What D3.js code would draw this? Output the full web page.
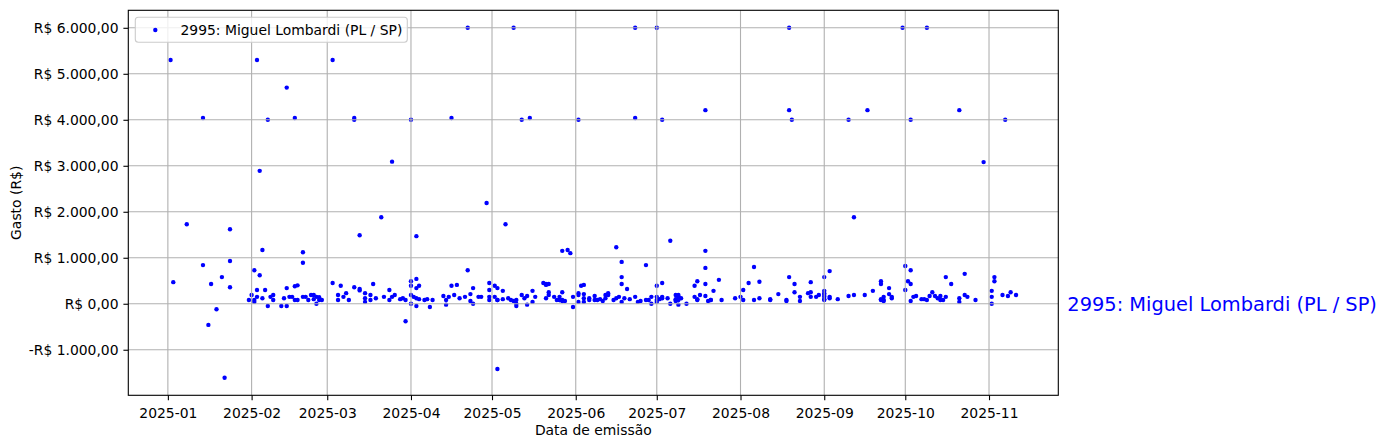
<!DOCTYPE html>
<html>
<head>
<meta charset="utf-8">
<script src="https://cdn.jsdelivr.net/npm/d3@7"></script>
<style>
  html, body { margin: 0; padding: 0; background: #fff; }
  svg { display: block; font-family: "DejaVu Sans", sans-serif; }
</style>
</head>
<body>
<svg id="chart" width="1387" height="448"></svg>
<script>
// ---- DATA ----
const seriesName = "2995: Miguel Lombardi (PL / SP)";
const startDate = "2025-01-01";
// emission date, as days after 2025-01-01
const emissionDay = [
  1,33,61,44,13,37,47,69,69,90,34,83,
  7,23,2,13,23,16,20,23,18,15,21,32,35,34,30,31,32,32,33,33,36,35,37,38,39,39,42,43,44,44,45,46,47,48,47,48,
  50,50,50,51,52,53,54,55,56,54,55,56,57,61,63,63,64,65,66,67,69,71,71,71,73,73,73,75,75,76,77,79,80,82,82,83,84,
  86,87,88,88,90,90,90,90,92,92,92,93,91,92,93,92,
  111,128,173,181,105,131,134,152,173,183,199,118,125,186,
  230,272,281,230,231,252,259,275,293,310,302,254,
  95,96,98,97,102,103,103,104,105,106,107,108,110,111,112,112,113,113,115,116,119,119,119,119,121,122,121,122,122,
  124,124,122,126,127,128,129,129,129,131,132,133,133,135,135,136,139,140,141,140,140,141,141,
  143,144,145,145,145,146,146,146,147,146,148,149,150,150,152,152,152,154,153,154,154,154,156,156,158,158,159,160,161,
  162,162,163,163,165,166,167,168,169,171,173,174,166,168,168,168,170,
  175,177,177,178,179,179,181,181,181,181,182,183,183,183,185,186,188,188,188,189,189,189,189,190,188,189,192,
  195,195,196,196,196,197,199,199,199,199,200,201,201,202,204,205,210,212,213,213,215,217,217,219,219,223,223,226,
  229,229,230,232,232,234,234,237,238,238,238,240,241,243,243,243,243,243,243,243,245,245,245,248,252,254,
  258,261,264,264,264,264,265,265,265,267,267,268,268,273,273,275,274,275,275,276,277,279,280,281,282,283,284,285,
  286,286,287,288,288,290,293,293,295,295,296,299,305,305,305,306,306,309,311,312,314
];
// expense value in R$
const expense = [
  5300,5300,5300,4700,4040,4000,4040,4040,4000,4000,2890,3090,
  1730,1620,470,840,930,430,580,360,-120,-460,-1610,730,1170,620,80,190,80,40,150,300,300,120,-50,150,190,80,-50,120,340,-50,150,150,380,400,80,80,
  1120,890,150,150,80,190,190,150,140,100,0,80,80,450,190,80,390,150,230,80,360,320,290,1490,230,40,120,190,80,430,120,1880,150,300,80,150,190,
  100,120,80,-380,490,390,190,0,1470,540,340,390,150,120,100,-50,
  6000,6000,6000,6000,4040,4000,4040,4000,4040,4000,4210,2190,1730,1370,
  6000,6000,6000,4210,4000,4000,4210,4000,4210,4000,3080,1880,
  80,100,80,-70,170,80,-20,150,390,190,410,120,150,730,210,60,0,340,150,150,80,150,300,450,390,340,150,80,80,
  280,100,-1420,120,80,60,-50,80,0,190,120,-20,170,280,40,150,450,430,430,410,120,250,190,
  150,80,80,150,80,60,250,80,60,1150,1170,1100,-70,150,230,190,40,410,390,210,120,40,120,80,170,80,80,100,60,
  120,190,230,190,80,120,150,40,120,100,150,40,1230,910,580,430,320,
  60,840,80,80,150,0,390,150,80,40,100,120,150,450,120,0,190,100,80,150,190,150,80,120,60,-20,0,
  150,390,100,490,80,190,430,1150,780,170,60,80,80,280,520,80,120,150,80,300,450,800,80,480,120,100,80,210,
  80,60,580,430,250,150,60,230,250,150,470,150,190,580,280,230,190,150,100,80,710,150,120,100,170,190,
  190,280,430,490,80,100,150,80,60,340,210,120,150,820,300,730,490,430,60,150,170,100,100,80,170,250,170,120,
  80,170,80,150,580,430,120,40,650,190,150,80,280,150,0,580,490,190,170,250,190
];
const yTickValues = [-1000, 0, 1000, 2000, 3000, 4000, 5000, 6000];
const xLabel = "Data de emissão";
const yLabel = "Gasto (R$)";

// ---- CHART ----
const svg = d3.select("#chart");
const margin = { left: 128.3, right: 1387 - 1058.3, top: 10.3, bottom: 448 - 395.3 };
const W = 1387, H = 448;
const x0 = margin.left, x1 = W - margin.right, y0 = margin.top, y1 = H - margin.bottom;

const base = new Date(startDate + "T00:00:00Z");
const points = emissionDay.map((d, i) => ({ date: d3.utcDay.offset(base, d), value: expense[i] }));

const [dMin, dMax] = d3.extent(points, p => +p.date);
const dPad = (dMax - dMin) * 0.05;
const x = d3.scaleUtc().domain([new Date(dMin - dPad), new Date(dMax + dPad)]).range([x0, x1]);
const [vMin, vMax] = d3.extent(points, p => p.value);
const vPad = (vMax - vMin) * 0.05;
const y = d3.scaleLinear().domain([vMin - vPad, vMax + vPad]).range([y1, y0]);

const loc = d3.formatLocale({ decimal: ",", thousands: ".", grouping: [3], currency: ["R$ ", ""], minus: "-" });
const fmt = loc.format("$,.2f");
const fontSize = 13.9;
const tickLen = 4.9, pad = 4.9, lw = 1.1;

const xTicks = x.ticks(d3.utcMonth.every(1));

// points
svg.append("g").selectAll("circle").data(points).join("circle")
  .attr("cx", p => x(p.date)).attr("cy", p => y(p.value))
  .attr("r", 2.2).attr("fill", "#0000ff");

// grid (drawn over points, as in the reference)
const grid = svg.append("g").attr("stroke", "#b0b0b0").attr("stroke-width", lw);
grid.selectAll("line.gx").data(xTicks).join("line")
  .attr("x1", d => x(d)).attr("x2", d => x(d)).attr("y1", y0).attr("y2", y1);
grid.selectAll("line.gy").data(yTickValues).join("line")
  .attr("x1", x0).attr("x2", x1).attr("y1", d => y(d)).attr("y2", d => y(d));

// axes
const xAxis = d3.axisBottom(x).tickValues(xTicks).tickFormat(d3.utcFormat("%Y-%m"))
  .tickSizeInner(tickLen).tickSizeOuter(0).tickPadding(pad);
const yAxis = d3.axisLeft(y).tickValues(yTickValues).tickFormat(fmt)
  .tickSizeInner(tickLen).tickSizeOuter(0).tickPadding(pad);

const gx = svg.append("g").attr("transform", `translate(0,${y1})`).call(xAxis);
const gy = svg.append("g").attr("transform", `translate(${x0},0)`).call(yAxis);
[gx, gy].forEach(g => {
  g.select(".domain").remove();
  g.selectAll(".tick line").attr("stroke", "#000").attr("stroke-width", lw);
  g.selectAll(".tick text").attr("fill", "#000").attr("font-size", fontSize)
    .attr("font-family", "DejaVu Sans, sans-serif");
});
gx.selectAll(".tick text").attr("dy", "0.95em");

// frame
svg.append("rect").attr("x", x0).attr("y", y0).attr("width", x1 - x0).attr("height", y1 - y0)
  .attr("fill", "none").attr("stroke", "#000").attr("stroke-width", lw);

// axis labels
svg.append("text").attr("x", (x0 + x1) / 2).attr("y", 435).attr("text-anchor", "middle")
  .attr("font-size", fontSize).text(xLabel);
svg.append("text").attr("transform", `translate(21,${(y0 + y1) / 2}) rotate(-90)`)
  .attr("text-anchor", "middle").attr("font-size", fontSize).text(yLabel);

// legend
const lg = svg.append("g");
lg.append("rect").attr("x", 135.3).attr("y", 17.3).attr("width", 272).attr("height", 25)
  .attr("rx", 3).attr("fill", "#fff").attr("fill-opacity", 0.8)
  .attr("stroke", "#cccccc").attr("stroke-width", lw);
lg.append("circle").attr("cx", 155.3).attr("cy", 30).attr("r", 2.2).attr("fill", "#0000ff");
lg.append("text").attr("x", 180.5).attr("y", 30).attr("dy", "0.35em")
  .attr("font-size", fontSize).text(seriesName);

// right-side series label at y = 0
svg.append("text").attr("x", 1067.3).attr("y", y(0)).attr("dy", "0.35em")
  .attr("font-size", 19.4).attr("fill", "#0000ff").text(seriesName);
</script>
</body>
</html>
